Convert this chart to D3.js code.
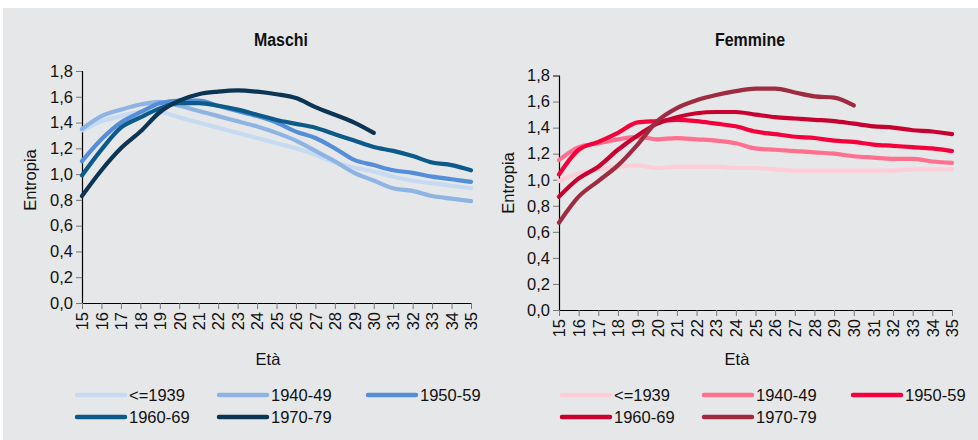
<!DOCTYPE html>
<html>
<head>
<meta charset="utf-8">
<script src="https://cdn.jsdelivr.net/npm/d3@7"></script>
<style>
  html, body { margin: 0; padding: 0; background: #ffffff; }
  svg { display: block; }
  text { font-family: "Liberation Sans", Arial, sans-serif; fill: #111; }
</style>
</head>
<body>
<svg id="chart" width="978" height="440"></svg>
<script>
// ---- Data ----
const ages = [15,16,17,18,19,20,21,22,23,24,25,26,27,28,29,30,31,32,33,34,35];
const yTicks = [0, 0.2, 0.4, 0.6, 0.8, 1.0, 1.2, 1.4, 1.6, 1.8];
const cohorts = ["<=1939", "1940-49", "1950-59", "1960-69", "1970-79"];

// Maschi
const m1939 = [1.34,1.41,1.45,1.48,1.48,1.44,1.40,1.36,1.32,1.28,1.24,1.20,1.15,1.09,1.05,1.02,0.98,0.95,0.93,0.91,0.89];
const m1940 = [1.35,1.45,1.50,1.54,1.56,1.53,1.49,1.45,1.41,1.37,1.32,1.26,1.18,1.10,1.01,0.95,0.89,0.87,0.83,0.81,0.79];
const m1950 = [1.10,1.27,1.40,1.48,1.55,1.57,1.57,1.53,1.49,1.45,1.40,1.33,1.28,1.20,1.11,1.07,1.03,1.01,0.98,0.96,0.94];
const m1960 = [0.99,1.19,1.36,1.44,1.51,1.55,1.55,1.53,1.50,1.46,1.42,1.39,1.36,1.31,1.26,1.21,1.18,1.14,1.09,1.07,1.03];
const m1970 = [0.83,1.03,1.20,1.33,1.48,1.57,1.62,1.64,1.65,1.64,1.62,1.59,1.52,1.46,1.40,1.32];

// Femmine
const f1939 = [0.99,1.05,1.08,1.10,1.11,1.09,1.10,1.10,1.10,1.09,1.09,1.08,1.07,1.07,1.07,1.07,1.07,1.07,1.08,1.08,1.08];
const f1940 = [1.15,1.25,1.28,1.31,1.33,1.31,1.32,1.31,1.30,1.28,1.24,1.23,1.22,1.21,1.20,1.18,1.17,1.16,1.16,1.14,1.13];
const f1950 = [1.04,1.23,1.29,1.36,1.44,1.45,1.46,1.45,1.43,1.41,1.37,1.35,1.33,1.32,1.30,1.29,1.27,1.26,1.25,1.24,1.22];
const f1960 = [0.87,1.01,1.10,1.23,1.34,1.43,1.48,1.51,1.52,1.52,1.50,1.48,1.47,1.46,1.45,1.43,1.41,1.40,1.38,1.37,1.35];
const f1970 = [0.67,0.87,0.99,1.11,1.27,1.45,1.55,1.61,1.65,1.68,1.70,1.70,1.67,1.64,1.63,1.57];

const maleColors   = ["#c6dbf2", "#8db4e3", "#558ed8", "#0b5a8a", "#0b3552"];
const femaleColors = ["#ffcdd8", "#ff6f8e", "#f5003a", "#c70030", "#9e2b40"];

// ---- Drawing ----
const svg = d3.select("#chart");
svg.append("rect").attr("x", 3).attr("y", 8).attr("width", 975).attr("height", 432).attr("fill", "#e6e7e9");

const fmt = d => d3.format(".1f")(d).replace(".", ",");

function panel(cfg) {
  const x = d3.scaleLinear().domain([15, 35]).range([cfg.x0, cfg.x1]);
  const y = d3.scaleLinear().domain([0, 1.8]).range([cfg.y0, cfg.y1]);
  const g = svg.append("g");

  // title (condensed bold)
  g.append("text").attr("transform", `translate(${cfg.titleX},46) scale(0.84,1)`)
    .attr("text-anchor", "middle")
    .style("font-family", "'Liberation Sans Narrow', 'Liberation Sans', Arial, sans-serif")
    .style("font-weight", "bold").style("font-size", "19px").text(cfg.title);

  // y axis
  const ya = g.append("g").attr("transform", `translate(${cfg.x0},0)`)
    .call(d3.axisLeft(y).tickValues(yTicks).tickFormat(fmt).tickSize(6).tickPadding(3));
  ya.select(".domain").attr("stroke", "#000").attr("stroke-width", 1.2);
  ya.selectAll(".tick line").attr("stroke", "#777");
  ya.selectAll(".tick text").style("font-size", "16.5px").attr("fill", "#111")
    .style("font-family", "'Liberation Sans', Arial, sans-serif");

  // x axis
  const xa = g.append("g").attr("transform", `translate(0,${cfg.y0})`)
    .call(d3.axisBottom(x).tickValues(ages).tickFormat(d3.format("d")).tickSize(6).tickSizeOuter(0));
  xa.select(".domain").attr("stroke", "#000").attr("stroke-width", 1.2);
  xa.selectAll(".tick line").attr("stroke", "#777");
  xa.selectAll(".tick text")
    .attr("transform", "rotate(-90)")
    .attr("x", -9).attr("y", 0).attr("dy", "0.35em")
    .attr("text-anchor", "end")
    .style("font-size", "16.5px").attr("fill", "#111")
    .style("font-family", "'Liberation Sans', Arial, sans-serif");

  // axis titles
  g.append("text").attr("x", cfg.etaX).attr("y", 365).attr("text-anchor", "middle")
    .style("font-size", "16.5px").text("Età");
  g.append("text").attr("transform", `translate(${cfg.entX},${cfg.entY}) rotate(-90)`)
    .attr("text-anchor", "middle").attr("dy", "0.35em")
    .style("font-size", "16.5px").text("Entropia");

  // lines
  const line = d3.line().x((d, i) => x(ages[i])).y(d => y(d)).curve(d3.curveMonotoneX);
  cfg.series.forEach((s, i) => {
    g.append("path").datum(s).attr("d", line).attr("fill", "none")
      .attr("stroke", cfg.colors[i]).attr("stroke-width", 4.2)
      .attr("stroke-linecap", "round").attr("stroke-linejoin", "round");
  });

  // legend
  const cols = [cfg.legX, cfg.legX + 142, cfg.legX + 291];
  const rows = [395, 417];
  cohorts.forEach((c, i) => {
    const cx = cols[i % 3], cy = rows[Math.floor(i / 3)];
    g.append("line").attr("x1", cx).attr("x2", cx + 48).attr("y1", cy).attr("y2", cy)
      .attr("stroke", cfg.colors[i]).attr("stroke-width", 4.5).attr("stroke-linecap", "round");
    g.append("text").attr("x", cx + 52).attr("y", cy).attr("dy", "0.36em")
      .style("font-size", "16.5px").text(c);
  });
}

panel({
  title: "Maschi", titleX: 281, x0: 82, x1: 471, y0: 303, y1: 71,
  etaX: 268, entX: 30, entY: 180, legX: 77,
  series: [m1939, m1940, m1950, m1960, m1970], colors: maleColors
});
panel({
  title: "Femmine", titleX: 750, x0: 559, x1: 952, y0: 310, y1: 75.5,
  etaX: 737, entX: 508, entY: 183, legX: 562,
  series: [f1939, f1940, f1950, f1960, f1970], colors: femaleColors
});
</script>
</body>
</html>
